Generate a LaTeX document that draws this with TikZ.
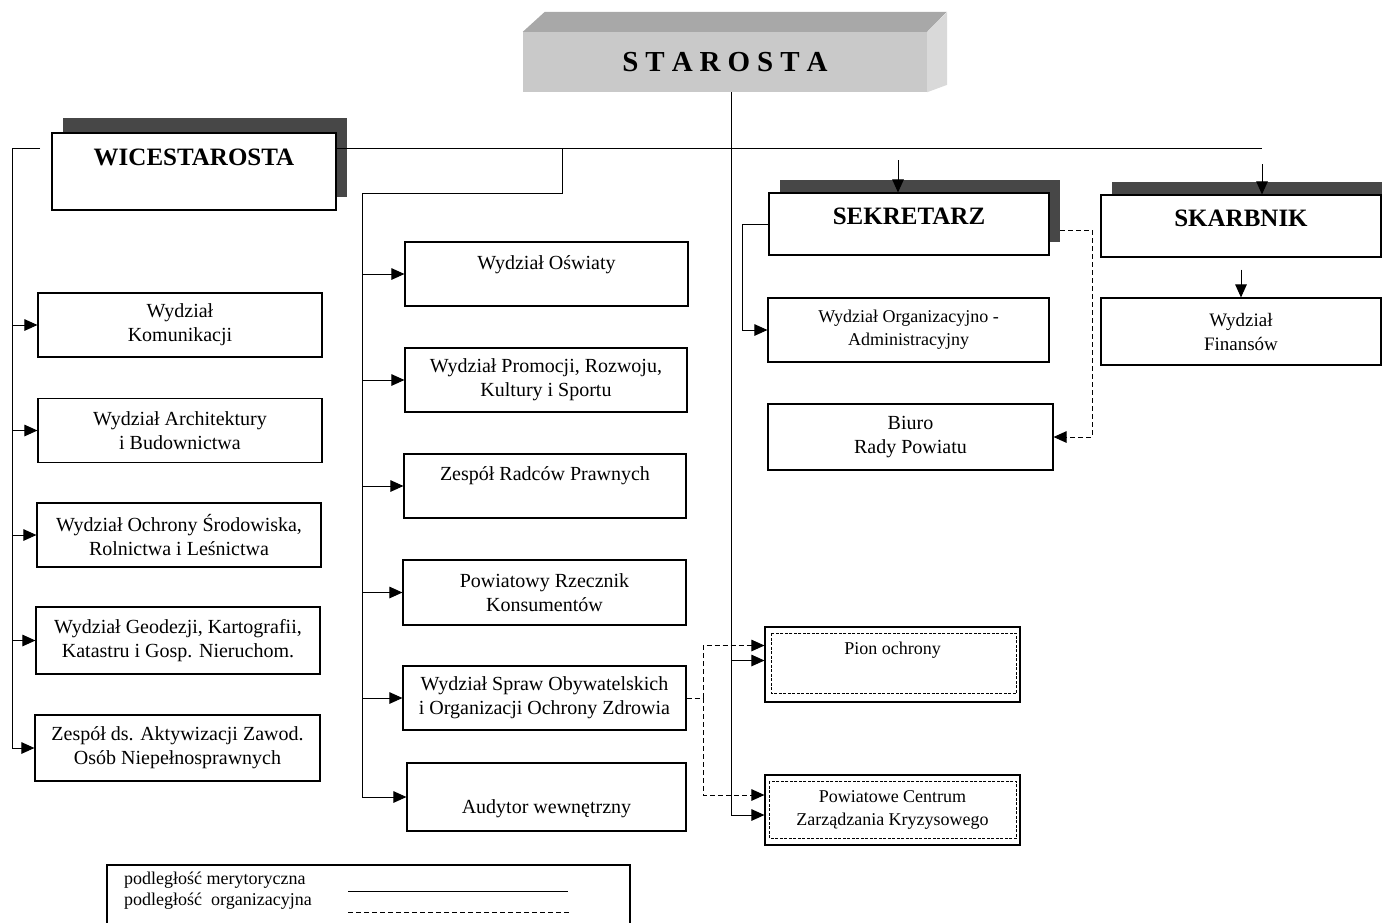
\documentclass[tikz,border=0pt]{standalone}
\usepackage{fontspec}
\setmainfont{Liberation Serif}
\usetikzlibrary{arrows.meta,shadows}
\newcommand{\lgap}{\kern7pt}
\newcommand{\lift}[2]{\raisebox{#1}[0pt][0pt]{#2}}

\begin{document}
\begin{tikzpicture}[x=1pt, y=-1pt, >={Triangle[length=13pt,width=11.5pt]},
  box/.style={draw, line width=1.1pt, fill=white, align=center, inner sep=0pt,
    minimum width=283pt, minimum height=64pt, font=\fontsize{20}{24}\selectfont},
  head/.style={box, minimum width=280pt, minimum height=62pt,
    font=\fontsize{25}{30}\selectfont\bfseries,
    drop shadow={shadow xshift=11pt, shadow yshift=13pt, fill=black!72, opacity=1}},
  framed/.style={box, minimum width=255pt, font=\fontsize{18}{23}\selectfont},
  link/.style={line width=1pt},
  org/.style={line width=1pt, dash pattern=on 5pt off 3pt},
  inner/.style={line width=0.6pt, dash pattern=on 3pt off 1.5pt}]
\useasboundingbox (0,0) rectangle (1382,922);

\node[fill=gray!42, minimum width=404pt, minimum height=60pt, inner sep=0pt,
  font=\fontsize{29}{30}\selectfont\bfseries] (starosta) at (725,62)
  {S\lgap T\lgap A\lgap R\lgap O\lgap S\lgap T\lgap A};
\fill[gray!68] (starosta.north west) -- ++(22,-20) -- ++(402,0) -- (starosta.north east) -- cycle;
\fill[gray!30] (starosta.north east) -- ++(20,-20) -- ++(0,73) -- (starosta.south east) -- cycle;

\node[head, minimum width=284pt, minimum height=77pt,
  drop shadow={shadow xshift=11pt, shadow yshift=15pt, fill=black!72, opacity=1}]
  (wice) at (194,171.5) {\lift{6.5pt}{WICESTAROSTA}};
\node[head] (sekretarz) at (909,224) {\lift{0pt}{SEKRETARZ}};
\node[head] (skarbnik) at (1241,226) {\lift{0pt}{SKARBNIK}};

\node[box, minimum width=284pt] (komunikacja) at (180,325) {Wydział\\Komunikacji};
\node[box, minimum width=284pt] (architektura) at (180,430.5) {Wydział Architektury\\i Budownictwa};
\node[box, minimum width=284pt] (srodowisko) at (179,535) {Wydział Ochrony Środowiska,\\Rolnictwa i Leśnictwa};
\node[box, minimum width=284pt, minimum height=67pt] (geodezja) at (178,640.5) {Wydział Geodezji, Kartografii,\\Katastru i Gosp. Nieruchom.};
\node[box, minimum width=285pt, minimum height=66pt] (niepelnosprawni) at (177.5,748) {Zespół ds. Aktywizacji Zawod.\\Osób Niepełnosprawnych};

\node[box] (oswiata) at (546.5,274) {\lift{4.5pt}{Wydział Oświaty}};
\node[box, minimum width=282pt] (promocja) at (546,380) {Wydział Promocji, Rozwoju,\\Kultury i Sportu};
\node[box, minimum width=282pt] (radcy) at (545,486) {\lift{5.5pt}{Zespół Radców Prawnych}};
\node[box, minimum height=65pt] (rzecznik) at (544.5,592.5) {Powiatowy Rzecznik\\Konsumentów};
\node[box] (sprawy) at (544.5,698) {Wydział Spraw Obywatelskich\\i Organizacji Ochrony Zdrowia};
\node[box, minimum width=279pt, minimum height=68pt] (audytor) at (546.5,797) {\lift{-16pt}{Audytor wewnętrzny}};

\node[box, minimum width=281pt, font=\fontsize{18}{23}\selectfont] (organizacyjny) at (908.5,330) {Wydział Organizacyjno -\\Administracyjny};
\node[box, minimum width=285pt, minimum height=66pt] (biuro) at (910.5,437) {Biuro\\Rady Powiatu};
\node[box, minimum width=280pt, minimum height=67pt, font=\fontsize{19}{24}\selectfont] (finanse) at (1241,331.5) {Wydział\\Finansów};

\node[framed, minimum height=75pt] (pion) at (892.5,664.5) {\lift{10pt}{Pion ochrony}};
\node[framed, minimum height=70pt] (centrum) at (892.5,810) {Powiatowe Centrum\\Zarządzania Kryzysowego};
\draw[inner] ([shift={(7pt,-7pt)}]pion.north west) rectangle ([shift={(-4pt,9pt)}]pion.south east);
\draw[inner] ([shift={(5pt,-7pt)}]centrum.north west) rectangle ([shift={(-4pt,7pt)}]centrum.south east);

\coordinate (busL) at (12,148);
\coordinate (busR) at (1262,148);
\coordinate (sekTop) at (898,160);
\coordinate (skaTop) at (1262,164);
\draw[link] (40,148) -- (busL);
\draw[link, ->] (busL) |- (niepelnosprawni.west);
\foreach \n in {komunikacja,architektura,srodowisko,geodezja}
  \draw[link, ->] (busL |- \n.west) -- (\n.west);
\draw[link] (wice.east |- busR) -- (busR);
\draw[link, ->] (sekTop) -- (sekTop |- sekretarz.north);
\draw[link, ->] (skaTop) -- (skaTop |- skarbnik.north);

\coordinate (midTop) at (562,148);
\coordinate (midBus) at (362,193);
\draw[link, ->] (midTop) |- (midBus) |- (audytor.west);
\foreach \n in {oswiata,promocja,radcy,rzecznik,sprawy}
  \draw[link, ->] (midBus |- \n.west) -- (\n.west);

\coordinate (trunk) at (731,92);
\coordinate (pionIn) at ([yshift=4pt]pion.west);
\coordinate (centIn) at ([yshift=-5pt]centrum.west);
\draw[link, ->] (trunk) |- (centIn);
\draw[link, ->] (trunk |- pionIn) -- (pionIn);

\draw[link, ->] (sekretarz.west) -- ++(-26,0) |- (organizacyjny.west);
\draw[link, ->] ([yshift=-12pt]skarbnik.south) -- (finanse.north);

\coordinate (sekOut) at (1060,230);
\draw[org, ->] (sekOut) -- ++(32,0) |- (biuro.east);
\coordinate (orgV) at (703,698);
\coordinate (pionOrg) at ([yshift=19pt]pion.west);
\coordinate (centOrg) at ([yshift=15pt]centrum.west);
\draw[org] (sprawy.east) -- (orgV);
\draw[org, ->] (orgV) |- (pionOrg);
\draw[org, ->] (orgV) |- (centOrg);

\node[draw, line width=1.1pt, minimum width=523pt, minimum height=70pt, inner sep=0pt] (legenda) at (368.5,900) {};
\node[anchor=west, inner sep=0pt, font=\fontsize{18}{20}\selectfont] (merytoryczna) at (124,880) {podległość merytoryczna};
\node[anchor=west, inner sep=0pt, font=\fontsize{18}{20}\selectfont] (organizacyjna) at (124,901) {podległość\enspace organizacyjna};
\draw[link] (348,891) -- (568,891);
\draw[org] (348,912) -- (570,912);
\end{tikzpicture}
\end{document}
